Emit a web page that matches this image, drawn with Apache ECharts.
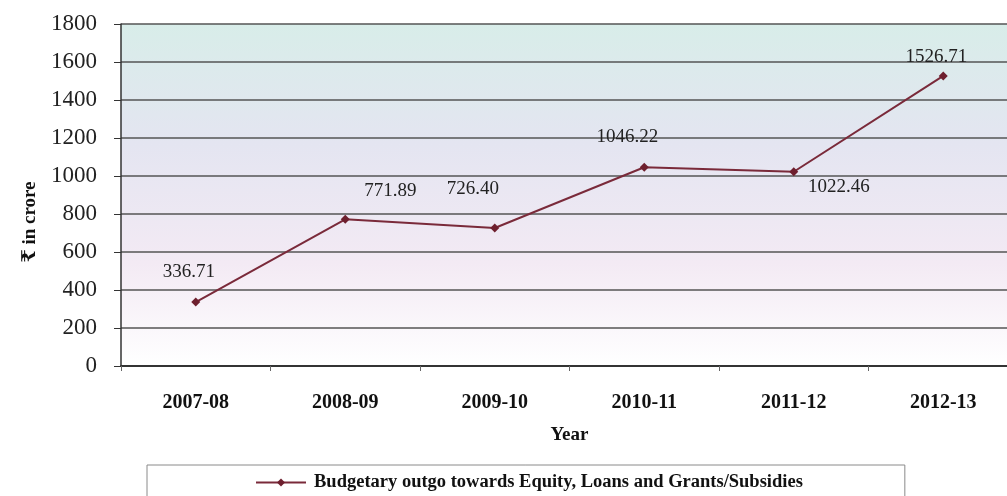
<!DOCTYPE html>
<html>
<head>
<meta charset="utf-8">
<script src="https://cdn.jsdelivr.net/npm/echarts@6/dist/echarts.min.js"></script>
<style>
  html, body { margin: 0; padding: 0; background: #ffffff; }
  #chart { width: 1007px; height: 496px; }
</style>
</head>
<body>
<div id="chart"></div>
<script>
// Financial years on the category axis
const years = ['2007-08', '2008-09', '2009-10', '2010-11', '2011-12', '2012-13'];
// Budgetary outgo (₹ in crore)
const outgo = [336.71, 771.89, 726.40, 1046.22, 1022.46, 1526.71];
// Where each value label sits relative to its point, in pixels
const labelOffsets = [[-7, -30], [45, -28], [-22, -39], [-17, -30], [45, 15], [-7, -19]];

const seriesName = 'Budgetary outgo towards Equity, Loans and Grants/Subsidies';
const serif = '"Liberation Serif", "DejaVu Serif", serif';

const chart = echarts.init(document.getElementById('chart'));
chart.setOption({
  animation: false,
  backgroundColor: '#ffffff',
  grid: {
    left: 121, top: 24, bottom: 130, width: 897,
    outerBoundsMode: 'none',
    containLabel: false,
    show: true,
    borderWidth: 0,
    backgroundColor: {
      type: 'linear', x: 0, y: 0, x2: 0, y2: 1,
      colorStops: [
        { offset: 0, color: '#d8ede9' },
        { offset: 0.35, color: '#e4e5f1' },
        { offset: 0.7, color: '#f3eaf4' },
        { offset: 1, color: '#ffffff' }
      ]
    }
  },
  legend: {
    left: 147, top: 465,
    padding: [8, 102, 30, 108],
    itemGap: 0,
    borderColor: '#8a8a8a', borderWidth: 1,
    itemWidth: 50, itemHeight: 10,
    textStyle: { fontFamily: serif, fontWeight: 'bold', fontSize: 18.5, color: '#111', padding: [0, 0, 0, 3] },
    data: [seriesName]
  },
  xAxis: {
    type: 'category',
    data: years,
    boundaryGap: true,
    name: 'Year',
    nameLocation: 'middle',
    nameGap: 60,
    nameTextStyle: { fontFamily: serif, fontWeight: 'bold', fontSize: 19, color: '#111' },
    axisLine: { show: true, lineStyle: { color: '#333', width: 2 } },
    axisTick: { show: true, length: 5, lineStyle: { color: '#666' } },
    axisLabel: { fontFamily: serif, fontWeight: 'bold', fontSize: 20, color: '#111', margin: 27 },
    splitLine: { show: false }
  },
  yAxis: {
    type: 'value',
    min: 0, max: 1800, interval: 200,
    name: '₹ in crore',
    nameLocation: 'middle',
    nameGap: 81,
    nameRotate: 90,
    nameTextStyle: { fontFamily: serif, fontWeight: 'bold', fontSize: 19, color: '#111', padding: [0, 54, 0, 0] },
    axisLine: { show: true, lineStyle: { color: '#333', width: 1.5 } },
    axisTick: { show: true, inside: false, length: 7, lineStyle: { color: '#333' } },
    axisLabel: { fontFamily: serif, fontSize: 23, color: '#222', margin: 24, formatter: v => String(v) },
    splitLine: { show: true, lineStyle: { color: '#555', width: 1.5 } }
  },
  series: [{
    name: seriesName,
    type: 'line',
    data: outgo.map((v, i) => ({
      value: v,
      label: { offset: labelOffsets[i] }
    })),
    symbol: 'diamond',
    symbolSize: 9,
    lineStyle: { color: '#7a2a3a', width: 2 },
    itemStyle: { color: '#6e1f2e' },
    label: {
      show: true,
      position: 'inside',
      formatter: p => p.value.toFixed(2),
      fontFamily: serif, fontSize: 19, color: '#222'
    }
  }]
});
</script>
</body>
</html>
